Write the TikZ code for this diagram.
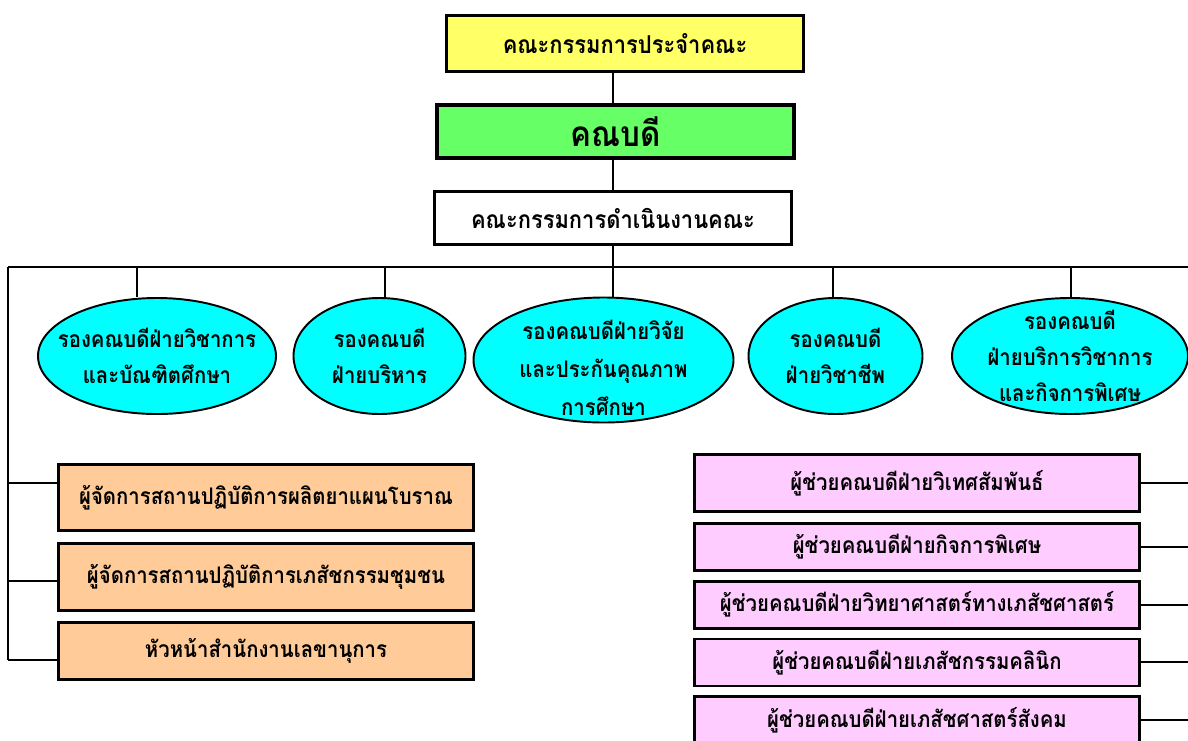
\documentclass[tikz,border=0pt]{standalone}
\usepackage{fontspec}
\newfontfamily\thaifont[Script=Thai,FakeStretch=0.89]{Loma}
\usetikzlibrary{positioning,shapes.geometric}
\definecolor{HeadYellow}{HTML}{FFFF66}
\definecolor{HeadGreen}{HTML}{66FF66}
\definecolor{RongCyan}{HTML}{00FFFF}
\definecolor{ManOrange}{HTML}{FFCC99}
\definecolor{AsstPink}{HTML}{FFCCFF}

\begin{document}
\begin{tikzpicture}[
  head/.style={draw=black,line width=1.8pt,minimum width=7.14cm,minimum height=1.12cm,inner ysep=0pt,align=center,font=\thaifont\bfseries\fontsize{14}{17}\selectfont},
  rong/.style={ellipse,draw=black,line width=1.1pt,fill=RongCyan,inner sep=0pt,minimum height=2.32cm},
  rongtxt/.style={inner sep=0pt,align=center,font=\thaifont\bfseries\fontsize{13}{20.5}\selectfont},
  orbox/.style={draw=black,line width=1.6pt,fill=ManOrange,minimum width=8.3cm,inner ysep=0pt,align=center,font=\thaifont\bfseries\fontsize{13}{16}\selectfont},
  pkbox/.style={draw=black,line width=1.6pt,fill=AsstPink,minimum width=8.9cm,minimum height=0.94cm,inner ysep=0pt,align=center,font=\thaifont\bfseries\fontsize{13}{16}\selectfont},
  lien/.style={line width=1.1pt,black}]
  \useasboundingbox (0,0) rectangle (23.76,-14.8);
  % top of the chart
  \node[head,fill=HeadYellow] (board) at (12.5,-0.87) {คณะกรรมการประจำคณะ};
  \node[head,fill=HeadGreen,line width=2.3pt,minimum height=1.06cm,font=\thaifont\bfseries\fontsize{20}{24}\selectfont] (dean) at (12.31,-2.63) {คณบดี};
  \node[head,fill=white,minimum height=1.06cm] (exec) at (12.26,-4.36) {คณะกรรมการดำเนินงานคณะ};
  \draw[lien] (board.south -| exec) -- (dean.north -| exec);
  \draw[lien] (dean.south -| exec) -- (exec.north);
  % bus
  \coordinate (busL) at (0.16,-5.34);
  \coordinate (busR) at (23.76,-5.34);
  \coordinate (rgt) at (23.76,-9);
  \draw[lien] (busL) -- (busR);
  \draw[lien] (exec.south) -- (exec.south |- busL);
  % vice deans
  \node[rong,minimum width=4.76cm] (v1) at (3.14,-7.12) {};
  \node[rong,minimum width=3.44cm] (v2) at (7.59,-7.12) {};
  \node[rong,minimum width=5.2cm,minimum height=2.5cm] (v3) at (12.07,-7.2) {};
  \node[rong,minimum width=3.48cm] (v4) at (16.71,-7.12) {};
  \node[rong,minimum width=4.72cm] (v5) at (21.4,-7.12) {};
  \node[rongtxt] (v1t) at (v1) {รองคณบดีฝ่ายวิชาการ\\และบัณฑิตศึกษา};
  \node[rongtxt] (v2t) at (v2) {รองคณบดี\\ฝ่ายบริหาร};
  \node[rongtxt,yshift=-0.16cm,font=\thaifont\bfseries\fontsize{13}{21.5}\selectfont] (v3t) at (v3) {รองคณบดีฝ่ายวิจัย\\และประกันคุณภาพ\\การศึกษา};
  \node[rongtxt] (v4t) at (v4) {รองคณบดี\\ฝ่ายวิชาชีพ};
  \node[rongtxt] (v5t) at (v5) {รองคณบดี\\ฝ่ายบริการวิชาการ\\และกิจการพิเศษ};
  \foreach \x/\v in {2.74/v1,7.7/v2,12.26/v3,16.66/v4,21.42/v5}{
    \coordinate (d\v) at (\x,-5.34);
    \draw[lien] (d\v) -- (d\v |- \v.north);
  }
  % managers, left
  \node[orbox,minimum height=1.32cm] (m1) at (5.32,-9.95) {ผู้จัดการสถานปฏิบัติการผลิตยาแผนโบราณ};
  \node[orbox,minimum height=1.34cm,below=0.2cm of m1] (m2) {ผู้จัดการสถานปฏิบัติการเภสัชกรรมชุมชน};
  \node[orbox,minimum height=1.14cm,below=0.18cm of m2] (m3) {หัวหน้าสำนักงานเลขานุการ};
  \coordinate (l1) at (0.16,-9.66);
  \coordinate (l2) at (0.16,-11.62);
  \coordinate (l3) at (0.16,-13.2);
  \draw[lien] (busL) -- (l3);
  \foreach \n in {1,2,3}
    \draw[lien] (l\n) -- (l\n -| m\n.west);
  % assistants, right
  \node[pkbox,minimum height=1.14cm] (a1) at (18.34,-9.66) {ผู้ช่วยคณบดีฝ่ายวิเทศสัมพันธ์};
  \node[pkbox,below=0.18cm of a1] (a2) {ผู้ช่วยคณบดีฝ่ายกิจการพิเศษ};
  \node[pkbox,below=0.16cm of a2] (a3) {ผู้ช่วยคณบดีฝ่ายวิทยาศาสตร์ทางเภสัชศาสตร์};
  \node[pkbox,below=0.16cm of a3] (a4) {ผู้ช่วยคณบดีฝ่ายเภสัชกรรมคลินิก};
  \node[pkbox,below=0.16cm of a4] (a5) {ผู้ช่วยคณบดีฝ่ายเภสัชศาสตร์สังคม};
  \foreach \n in {1,...,5}
    \draw[lien] (a\n.east) -- (a\n.east -| rgt);
\end{tikzpicture}
\end{document}
